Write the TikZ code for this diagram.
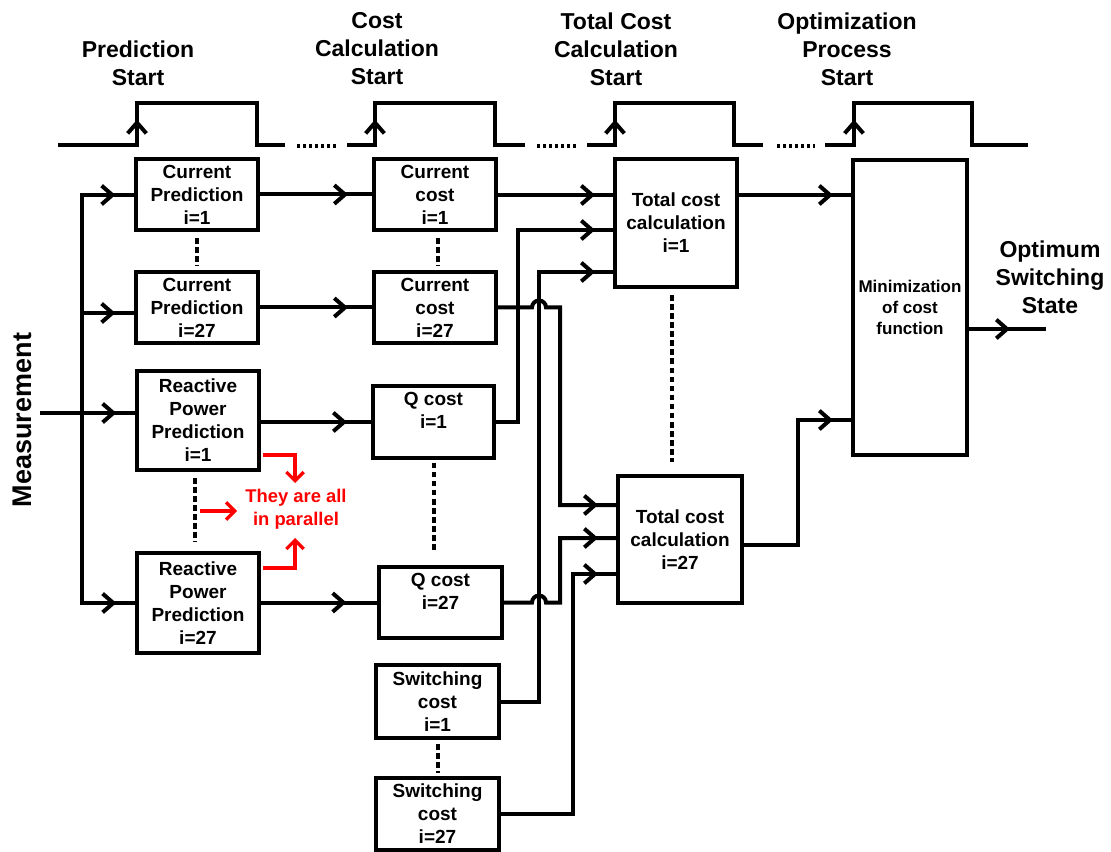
\documentclass[tikz,border=0pt]{standalone}
\usepackage{fontspec}
\setmainfont{Liberation Sans}
\usetikzlibrary{arrows.meta,decorations.markings}
\tikzset{
  wire/.style={line width=3pt, line join=miter},
  box/.style={draw, line width=3pt, inner sep=0pt, align=center, font=\fontsize{14.25}{17.25}\selectfont\bfseries},
  sz/.style 2 args={minimum width=#1*0.75pt, minimum height=#2*0.75pt},
  arr/.style={postaction={decorate}, decoration={markings, mark=at position #1 with {\arrow{Straight Barb[length=8pt,width=14pt]}}}},
  arr/.default=-14pt,
  dotsline/.style={line width=3pt, dash pattern=on 4.2pt off 2.6pt},
  gapdots/.style={line width=2.4pt, dash pattern=on 2.2pt off 2.3pt},
  hdr/.style={align=center, font=\fontsize{17.25}{21}\selectfont\bfseries},
  redarr/.style={red, line width=2.4pt, -{Straight Barb[length=6.5pt,width=13pt]}},
}
\begin{document}
\begin{tikzpicture}[x=0.75pt,y=-0.75pt]
\useasboundingbox (0,0) rectangle (1111,852);

% headers
\node[hdr] (hpred) at (138,63) {Prediction\\Start};
\node[hdr] (hcost) at (377,49) {Cost\\Calculation\\Start};
\node[hdr] (htot) at (616,49) {Total Cost\\Calculation\\Start};
\node[hdr] (hopt) at (847,49) {Optimization\\Process\\Start};

% pulses
\foreach \a/\b/\c/\d in {58/137/257/285, 347/375/495/525, 587/615/734/763, 825/854/972/1028}{
  \draw[wire] (\a,145) -- (\b,145) -- (\b,103) -- (\c,103) -- (\c,145) -- (\d,145);
  \draw[wire, arr=19pt] (\b,145) -- (\b,103);
}
\draw[gapdots] (297,146) -- (337,146);
\draw[gapdots] (537,146) -- (577,146);
\draw[gapdots] (777,146) -- (815,146);

% boxes
\node[box, sz={122}{71}] (cp1) at (197,194.5) {Current\\Prediction\\i=1};
\node[box, sz={122}{71}] (cp27) at (197,307.5) {Current\\Prediction\\i=27};
\node[box, sz={122}{99}] (rpp1) at (198,420.5) {Reactive\\Power\\Prediction\\i=1};
\node[box, sz={122}{100}] (rpp27) at (198,603) {Reactive\\Power\\Prediction\\i=27};
\node[box, sz={122}{71}] (cc1) at (435,194.5) {Current\\cost\\i=1};
\node[box, sz={122}{71}] (cc27) at (435,307.5) {Current\\cost\\i=27};
\node[box, sz={121}{72}] (q1) at (433.5,422) {Q cost\\i=1\\\mbox{}};
\node[box, sz={123}{71}] (q27) at (440.5,602.5) {Q cost\\i=27\\\mbox{}};
\node[box, sz={123}{73}] (sw1) at (437.5,701.5) {Switching\\cost\\i=1};
\node[box, sz={123}{72}] (sw27) at (437.5,814) {Switching\\cost\\i=27};
\node[box, sz={122}{128}] (tc1) at (676,223) {Total cost\\calculation\\i=1};
\node[box, sz={124}{127}] (tc27) at (680,539.5) {Total cost\\calculation\\i=27};
\node[box, sz={114}{295}, font=\fontsize{12.75}{16}\selectfont\bfseries] (min) at (910,307.5) {Minimization\\of cost\\function};

% labels
\node[rotate=90, font=\fontsize{20.25}{24}\selectfont\bfseries] (meas) at (22,420) {Measurement};
\node[hdr] (opt) at (1050,277) {Optimum\\Switching\\State};
\node[red, align=center, font=\fontsize{13.8}{17.25}\selectfont\bfseries] (par) at (296,509.5) {They are all\\in parallel};

% helper coordinates
\coordinate (yA) at (0,195);
\coordinate (yB) at (0,230);
\coordinate (yC) at (0,272);
\coordinate (yD) at (0,505);
\coordinate (yE) at (0,538);
\coordinate (yF) at (0,574);
\coordinate (yG) at (0,420);
\coordinate (yH) at (0,329);
\coordinate (yT) at (0,545);
\coordinate (y313) at (0,313);
\coordinate (y603) at (0,603);
\coordinate (xa) at (518,0);
\coordinate (xb) at (539,0);
\coordinate (xh) at (532,0);
\coordinate (xd) at (560,0);
\coordinate (xc) at (573,0);
\coordinate (xe) at (798,0);
\coordinate (m) at (40,413);
\coordinate (bus) at (82,413);
\coordinate (out) at (1046,329);

% measurement bus
\draw[wire, arr] (m) -- (rpp1.west |- m);
\draw[wire, arr] (bus) |- (cp1.west |- yA);
\draw[wire, arr] (bus) |- (cp27.west |- y313);
\draw[wire, arr] (bus) |- (rpp27.west |- y603);

% prediction -> cost
\draw[wire, arr=-18pt] (cp1) -- (cc1);
\draw[wire, arr=-18pt] (cp27) -- (cc27);
\draw[wire, arr=-18pt] (rpp1.east |- q1) -- (q1.west);
\draw[wire, arr=-23pt] (rpp27.east |- q27) -- (q27.west);

% cost -> total cost
\draw[wire, arr=-13.5pt] (cc1.east |- yA) -- (tc1.west |- yA);
\draw[wire, arr=-13.5pt] (q1.east) -- (q1.east -| xa) |- (tc1.west |- yB);
\draw[wire, arr=-13.5pt] (sw1.east) -- (sw1.east -| xb) |- (tc1.west |- yC);
\draw[wire, arr=-13.5pt] (cc27.east) -- (cc27.east -| xh) arc[start angle=180, end angle=0, radius=5.25pt] -- (cc27.east -| xd) |- (tc27.west |- yD);
\draw[wire, arr=-13.5pt] (q27.east) -- (q27.east -| xh) arc[start angle=180, end angle=0, radius=5.25pt] -- (q27.east -| xd) |- (tc27.west |- yE);
\draw[wire, arr=-13.5pt] (sw27.east) -- (sw27.east -| xc) |- (tc27.west |- yF);

% total -> min
\draw[wire, arr=-13.5pt] (tc1.east |- yA) -- (min.west |- yA);
\draw[wire, arr=-13.5pt] (tc27.east |- yT) -- (xe |- yT) |- (min.west |- yG);
\draw[wire, arr=-27pt] (min.east |- yH) -- (out);

% dotted continuation lines
\draw[dotsline] ([yshift=-4.5pt]cp1.south) -- ([yshift=3pt]cp27.north);
\draw[dotsline] ([xshift=2pt,yshift=-4.5pt]cc1.south) -- ([xshift=2pt,yshift=3pt]cc27.north);
\draw[dotsline] ([xshift=-2pt,yshift=-4.5pt]rpp1.south) -- ([xshift=-2pt,yshift=7pt]rpp27.north);
\draw[dotsline] ([yshift=-2pt]q1.south) -- ([yshift=9pt]q1.south |- q27.north);
\draw[dotsline] ([yshift=-3pt]sw1.south) -- ([yshift=2.5pt]sw1.south |- sw27.north);
\draw[dotsline] ([xshift=-3pt,yshift=-4.5pt]tc1.south) -- ([xshift=-3pt,yshift=9pt]tc1.south |- tc27.north);

% red arrows
\coordinate (r1s) at (263,455);
\coordinate (r1e) at (295,483);
\coordinate (r2s) at (263,568);
\coordinate (r2e) at (295,538);
\coordinate (r3s) at (200,511);
\coordinate (r3e) at (237,511);
\draw[redarr] (r1s) -| (r1e);
\draw[redarr] (r2s) -| (r2e);
\draw[redarr] (r3s) -- (r3e);
\end{tikzpicture}
\end{document}
